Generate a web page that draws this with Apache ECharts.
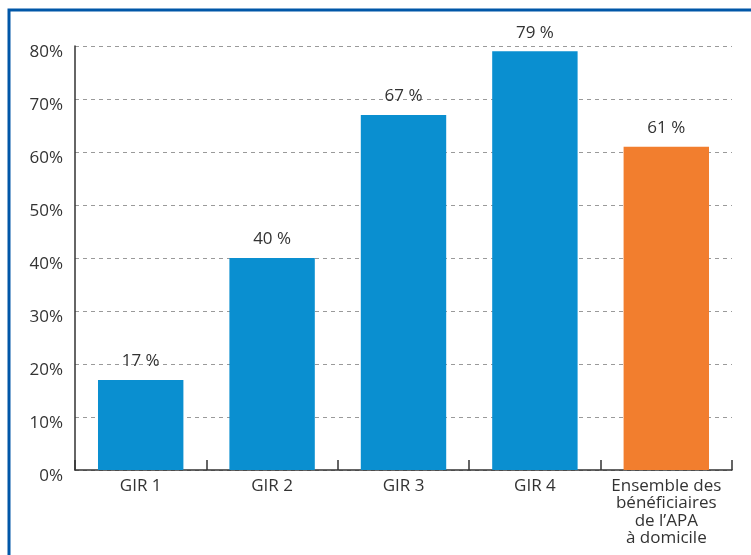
<!DOCTYPE html>
<html>
<head>
<meta charset="utf-8">
<script src="https://cdn.jsdelivr.net/npm/echarts@6/dist/echarts.min.js"></script>
<style>
  html, body { margin: 0; padding: 0; background: #fff; }
  #chart { width: 751px; height: 555px; }
</style>
</head>
<body>
<div id="chart"></div>
<script>
// Part des bénéficiaires de l'APA à domicile, par GIR
const categories = ['GIR 1', 'GIR 2', 'GIR 3', 'GIR 4', 'Ensemble des\nbénéficiaires\nde l\u2019APA\nà domicile'];
const values = [17, 40, 67, 79, 61];
const barColors = ['#0A8FD0', '#0A8FD0', '#0A8FD0', '#0A8FD0', '#F27E2E'];
const yTicks = [0, 10, 20, 30, 40, 50, 60, 70, 80];

const FONT = 'Open Sans';
const chart = echarts.init(document.getElementById('chart'), null, { renderer: 'canvas' });

chart.setOption({
  animation: false,
  backgroundColor: '#ffffff',
  graphic: [{
    type: 'rect',
    shape: { x: 9, y: 10, width: 800, height: 600 },
    style: { fill: 'none', stroke: '#0057A8', lineWidth: 3 },
    z: 100
  }],
  grid: { left: 75, right: 19, top: 46, bottom: 85, containLabel: false },
  xAxis: {
    type: 'category',
    data: categories,
    axisLine: { show: true, lineStyle: { color: '#333', width: 1.5 } },
    axisTick: { show: true, inside: true, length: 10, lineStyle: { color: '#333', width: 1.5 } },
    axisLabel: {
      interval: 0, margin: 7, color: '#333', fontFamily: FONT, fontSize: 17, lineHeight: 17.5
    },
    splitLine: { show: false }
  },
  yAxis: {
    type: 'value',
    min: yTicks[0],
    max: yTicks[yTicks.length - 1],
    interval: 10,
    axisLine: { show: true, lineStyle: { color: '#333', width: 1.5 } },
    axisTick: { show: false },
    axisLabel: {
      margin: 12, color: '#333', fontFamily: FONT, fontSize: 17,
      verticalAlign: 'top', lineHeight: 12, formatter: v => v + '%'
    },
    splitLine: { show: true, lineStyle: { color: '#9a9a9a', type: [4, 4], width: 1 } }
  },
  series: [{
    type: 'bar',
    barWidth: '65%',
    data: values.map((v, i) => ({ value: v, itemStyle: { color: barColors[i] } })),
    label: {
      show: true, position: 'top', distance: 10, color: '#333',
      fontFamily: FONT, fontSize: 17, formatter: p => p.value + ' %'
    }
  }]
});
</script>
</body>
</html>
